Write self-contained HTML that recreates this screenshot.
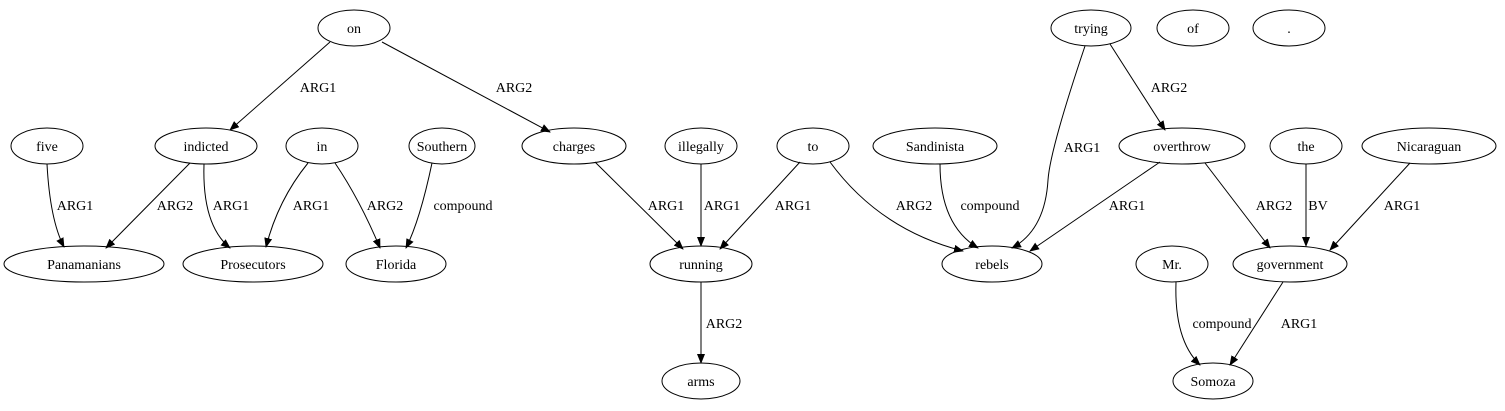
<!DOCTYPE html>
<html><head><meta charset="utf-8"><style>
html,body{margin:0;padding:0;background:#fff;}
svg{display:block;}
text{font-family:"Liberation Serif",serif;font-size:14px;fill:#000;}
</style></head><body>
<svg width="1505" height="411" viewBox="0 0 1505 411" xmlns="http://www.w3.org/2000/svg">
<defs><marker id="a" markerWidth="10" markerHeight="8" refX="9" refY="4" orient="auto" markerUnits="userSpaceOnUse"><path d="M0,0 L10,4 L0,8 Z" fill="#000"/></marker></defs>
<g fill="none" stroke="#000" stroke-width="1">
<ellipse cx="354" cy="28" rx="36" ry="18"/>
<ellipse cx="1091" cy="28" rx="40" ry="18"/>
<ellipse cx="1193" cy="28" rx="36" ry="18"/>
<ellipse cx="1289" cy="28" rx="36" ry="18"/>
<ellipse cx="47" cy="146" rx="36" ry="18"/>
<ellipse cx="206" cy="146" rx="51" ry="18"/>
<ellipse cx="322" cy="146" rx="36" ry="18"/>
<ellipse cx="442" cy="146" rx="33" ry="18"/>
<ellipse cx="574" cy="146" rx="52" ry="18"/>
<ellipse cx="701" cy="146" rx="36" ry="18"/>
<ellipse cx="813" cy="146" rx="36" ry="18"/>
<ellipse cx="935" cy="146" rx="62" ry="18"/>
<ellipse cx="1182" cy="146" rx="63" ry="18"/>
<ellipse cx="1306" cy="146" rx="36" ry="18"/>
<ellipse cx="1429" cy="146" rx="67" ry="18"/>
<ellipse cx="84" cy="264" rx="80" ry="18"/>
<ellipse cx="253" cy="264" rx="70" ry="18"/>
<ellipse cx="396" cy="264" rx="50" ry="18"/>
<ellipse cx="701" cy="264" rx="51" ry="18"/>
<ellipse cx="992" cy="264" rx="50" ry="18"/>
<ellipse cx="1172" cy="264" rx="36" ry="18"/>
<ellipse cx="1290" cy="264" rx="57" ry="18"/>
<ellipse cx="701" cy="381" rx="39" ry="18"/>
<ellipse cx="1213" cy="381" rx="40" ry="18"/>
</g>
<g fill="none" stroke="#000" stroke-width="1" marker-end="url(#a)">
<path d="M330,42 L230,130"/>
<path d="M382,42 L550,132"/>
<path d="M47,164 Q50,220 64,247"/>
<path d="M190,163 L106,248"/>
<path d="M204,164 Q202,225 230,248"/>
<path d="M308,163 Q278,200 266,247"/>
<path d="M335,163 Q360,200 380,248"/>
<path d="M432,163 Q420,220 406,248"/>
<path d="M595,162 L683,249"/>
<path d="M701,164 L701,246"/>
<path d="M800,162 L720,249"/>
<path d="M830,162 Q880,230 963,251"/>
<path d="M940,164 Q940,225 978,248"/>
<path d="M1085,46 Q1050,150 1048,180 Q1045,230 1012,248"/>
<path d="M1110,44 L1165,130"/>
<path d="M1160,162 L1030,251"/>
<path d="M1205,163 L1270,248"/>
<path d="M1306,164 L1306,246"/>
<path d="M1410,163 L1330,250"/>
<path d="M701,282 L701,363"/>
<path d="M1176,282 Q1174,340 1200,365"/>
<path d="M1283,282 L1230,365"/>
</g>
<g text-anchor="middle">
<text x="354" y="33">on</text>
<text x="1091" y="33">trying</text>
<text x="1193" y="33">of</text>
<text x="1289" y="33">.</text>
<text x="47" y="151">five</text>
<text x="206" y="151">indicted</text>
<text x="322" y="151">in</text>
<text x="442" y="151">Southern</text>
<text x="574" y="151">charges</text>
<text x="701" y="151">illegally</text>
<text x="813" y="151">to</text>
<text x="935" y="151">Sandinista</text>
<text x="1182" y="151">overthrow</text>
<text x="1306" y="151">the</text>
<text x="1429" y="151">Nicaraguan</text>
<text x="84" y="269">Panamanians</text>
<text x="253" y="269">Prosecutors</text>
<text x="396" y="269">Florida</text>
<text x="701" y="269">running</text>
<text x="992" y="269">rebels</text>
<text x="1172" y="269">Mr.</text>
<text x="1290" y="269">government</text>
<text x="701" y="386">arms</text>
<text x="1213" y="386">Somoza</text>
</g>
<g text-anchor="middle">
<text x="318" y="92">ARG1</text>
<text x="514" y="92">ARG2</text>
<text x="75" y="210">ARG1</text>
<text x="175" y="210">ARG2</text>
<text x="231" y="210">ARG1</text>
<text x="311" y="210">ARG1</text>
<text x="385" y="210">ARG2</text>
<text x="463" y="210">compound</text>
<text x="666" y="210">ARG1</text>
<text x="722" y="210">ARG1</text>
<text x="793" y="210">ARG1</text>
<text x="914" y="210">ARG2</text>
<text x="990" y="210">compound</text>
<text x="1082" y="152">ARG1</text>
<text x="1169" y="92">ARG2</text>
<text x="1127" y="210">ARG1</text>
<text x="1274" y="210">ARG2</text>
<text x="1318" y="210">BV</text>
<text x="1402" y="210">ARG1</text>
<text x="724" y="328">ARG2</text>
<text x="1222" y="328">compound</text>
<text x="1299" y="328">ARG1</text>
</g>
</svg>
</body></html>
